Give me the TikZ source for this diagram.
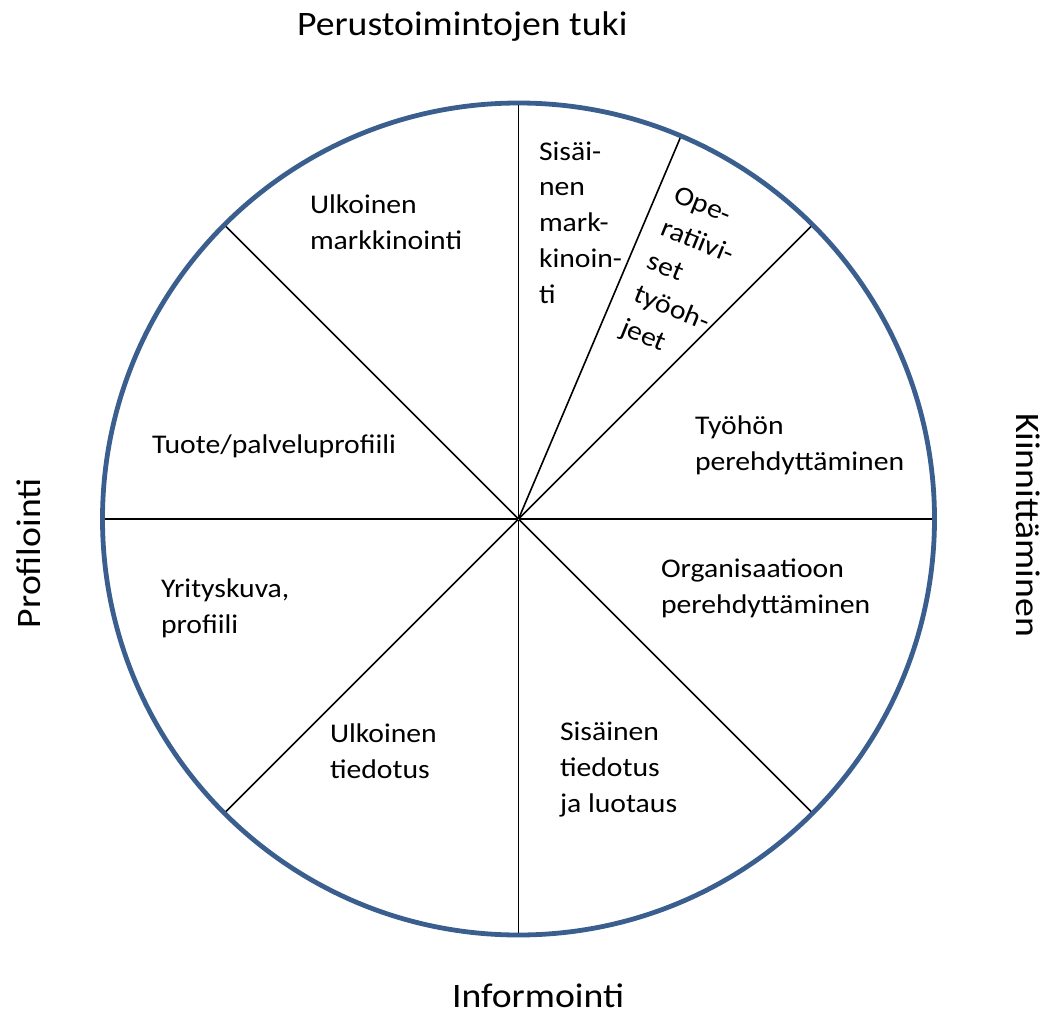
\documentclass[tikz,border=0pt]{standalone}
\usepackage{fontspec}
\setmainfont{Carlito}[FakeStretch=1.1]
\definecolor{rimblue}{HTML}{3A5F8F}

\begin{document}
\begin{tikzpicture}[x=1pt, y=-1pt, every node/.style={inner sep=0, outer sep=0},
	spoke/.style={draw, line width=1.6pt, shorten >=2.4pt},
	rim/.style={draw=rimblue, line width=4.8pt, circle, minimum size=832pt},
	slice/.style={font=\fontsize{27}{35.7}\selectfont, align=left, anchor=base west},
	side/.style={font=\fontsize{34.3}{40}\selectfont, anchor=base west}]
			% anchor base = baseline of the last line
			\useasboundingbox (0, 0) rectangle (1044, 1014);
			\node (hub)  at (518.5, 519) {};
			\node (wheel)  at (hub) [rim] {};
			\foreach \a in {0, 45, 67, 90, 135, 180, 225, 270, 315}
				\draw [spoke] (hub) -- (wheel.\a);
			\node (tuki)  at (297, 36) [side] {Perustoimintojen tuki};
			\node (info)  at (452, 1007) [side] {Informointi};
			\node (kiin)  at (1016, 413) [side, rotate=-90] {Kiinnittäminen};
			\node (prof)  at (40, 628) [side, rotate=90] {Profilointi};
			\node (ulkmark)  at (310, 249) [slice] {Ulkoinen\\markkinointi};
			\node (sismark)  at (539, 303) [slice] {Sisäi-\\nen\\mark-\\kinoin-\\ti};
			\node (oper)  at (619, 334) [slice, rotate=-22] {Ope-\\ratiivi-\\set\\työoh-\\jeet};
			\node (tyoper)  at (695, 470) [slice] {Työhön\\perehdyttäminen};
			\node (orgper)  at (661, 613) [slice] {Organisaatioon\\perehdyttäminen};
			\node (tuote)  at (152, 453) [slice] {Tuote/palveluprofiili};
			\node (kuva)  at (161, 633) [slice] {Yrityskuva,\\profiili};
			\node (ulktied)  at (330, 778) [slice] {Ulkoinen\\tiedotus};
			\node (sistied)  at (560, 812) [slice] {Sisäinen\\tiedotus\\ja luotaus};
		\end{tikzpicture}
\end{document}
